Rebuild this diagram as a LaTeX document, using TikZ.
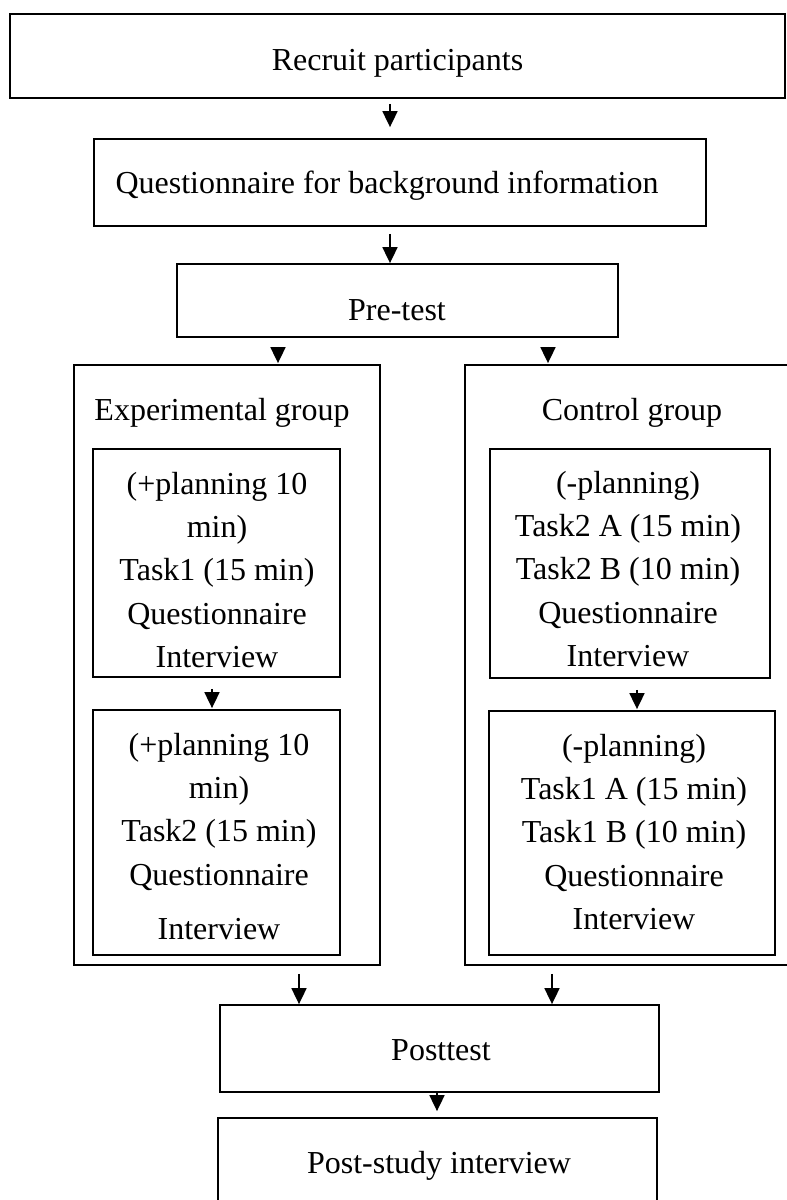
\documentclass[tikz,border=0pt]{standalone}
\usepackage{fontspec}
\setmainfont{Liberation Serif}
\usetikzlibrary{arrows.meta}
\newcommand\mystrut{\rule{0pt}{24pt}}
\begin{document}
\begin{tikzpicture}[x=1pt,y=-1pt,
  box/.style={draw, line width=1.8pt, inner sep=0pt},
  txt/.style={inner sep=0pt, align=center, font=\fontsize{32}{43.3}\selectfont, anchor=north},
  arr/.style={line width=1.8pt, -{Triangle[width=15pt,length=16pt]}}]
\useasboundingbox (0,0) rectangle (787,1200);
\clip (0,0) rectangle (787,1200);

% boxes
\node[box, minimum width=775pt, minimum height=84pt] (recruit) at (397.5,56) {};
\node[box, minimum width=612pt, minimum height=87pt] (quest) at (400,182.5) {};
\node[box, minimum width=441pt, minimum height=73pt] (pre) at (397.5,300.5) {};
\node[box, minimum width=306pt, minimum height=600pt] (exp) at (227,665) {};
\node[box, minimum width=335pt, minimum height=600pt] (ctrl) at (632.5,665) {};
\node[box, minimum width=247pt, minimum height=228pt] (expA) at (216.5,563) {};
\node[box, minimum width=247pt, minimum height=245pt] (expB) at (216.5,832.5) {};
\node[box, minimum width=280pt, minimum height=229pt] (ctrlA) at (630,563.5) {};
\node[box, minimum width=286pt, minimum height=244pt] (ctrlB) at (632,833) {};
\node[box, minimum width=439pt, minimum height=87pt] (post) at (439.5,1048.5) {};
\node[box, minimum width=439pt, minimum height=87pt] (study) at (437.5,1161.5) {};

% texts
\node[txt] (trecruit) at (397.5,46) {\mystrut Recruit participants};
\node[txt] (tquest) at (387,169) {\mystrut Questionnaire for background information};
\node[txt] (tpre) at (397,296) {\mystrut Pre-test};
\node[txt] (texp) at (222,396) {\mystrut Experimental group};
\node[txt] (tctrl) at (632,396) {\mystrut Control group};
\node[txt] (texpA) at (217,470) {\mystrut (+planning 10\\min)\\Task1 (15 min)\\Questionnaire\\Interview};
\node[txt] (texpB) at (219,731) {\mystrut (+planning 10\\min)\\Task2 (15 min)\\Questionnaire\\[11pt]Interview};
\node[txt] (tctrlA) at (628,469) {\mystrut (-planning)\\Task2 A (15 min)\\Task2 B (10 min)\\Questionnaire\\Interview};
\node[txt] (tctrlB) at (634,732) {\mystrut (-planning)\\Task1 A (15 min)\\Task1 B (10 min)\\Questionnaire\\Interview};
\node[txt] (tpost) at (441,1036) {\mystrut Posttest};
\node[txt] (tstudy) at (439,1149) {\mystrut Post-study interview};

% arrow columns
\coordinate (c1) at (390,0);
\coordinate (c2) at (278,0);
\coordinate (c3) at (548,0);
\coordinate (c4) at (212,0);
\coordinate (c5) at (637,0);
\coordinate (c6) at (299,0);
\coordinate (c7) at (552,0);
\coordinate (c8) at (437,0);

% connectors
\draw[arr, shorten <=5pt, shorten >=11pt] (recruit.south -| c1) -- (quest.north -| c1);
\draw[arr, shorten <=7pt] (quest.south -| c1) -- (pre.north -| c1);
\draw[arr, shorten <=9pt, shorten >=1pt] (pre.south -| c2) -- (exp.north -| c2);
\draw[arr, shorten <=9pt, shorten >=1pt] (pre.south -| c3) -- (ctrl.north -| c3);
\draw[arr, shorten <=11pt, shorten >=1pt] (expA.south -| c4) -- (expB.north -| c4);
\draw[arr, shorten <=11pt, shorten >=1pt] (ctrlA.south -| c5) -- (ctrlB.north -| c5);
\draw[arr, shorten <=8pt] (exp.south -| c6) -- (post.north -| c6);
\draw[arr, shorten <=8pt] (ctrl.south -| c7) -- (post.north -| c7);
\draw[arr, shorten >=6pt] (post.south -| c8) -- (study.north -| c8);
\end{tikzpicture}
\end{document}
